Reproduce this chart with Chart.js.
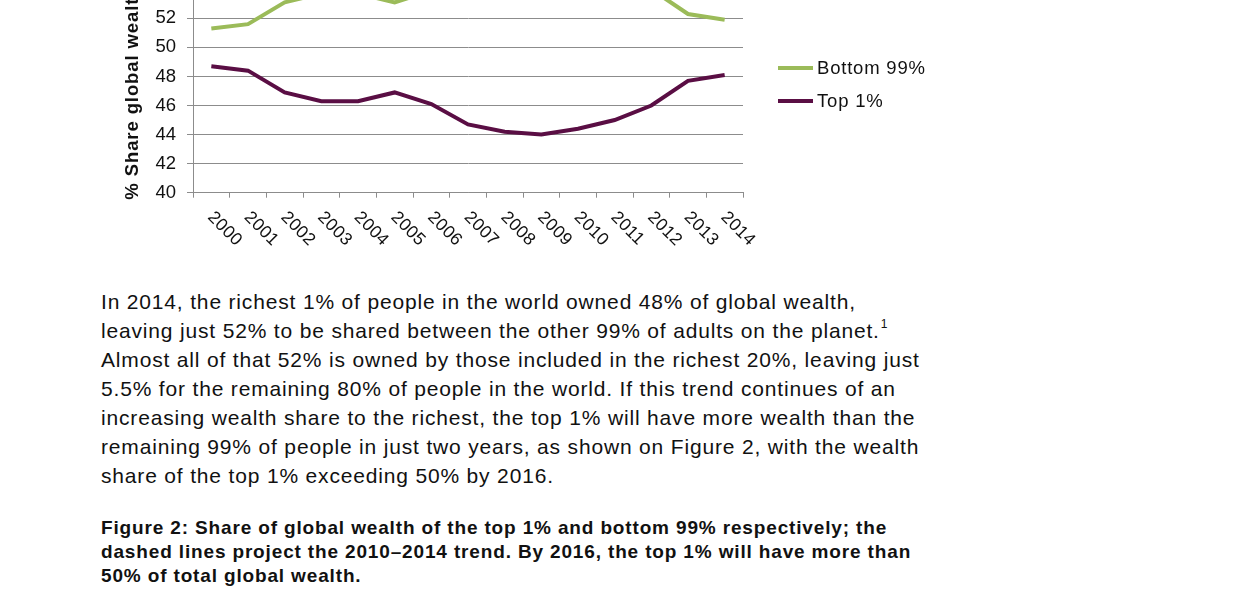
<!DOCTYPE html>
<html lang="en">
<head>
  <meta charset="UTF-8" />
  <title>Share of global wealth</title>
  <style>
    body {
      margin: 0;
      background: #fff;
      width: 1240px;
      height: 600px;
      overflow: hidden;
      position: relative;
      font-family: 'Liberation Sans', Arial, sans-serif;
      color: #111;
    }
    .chart-box {
      position: absolute;
      left: 0;
      top: -120px;
      width: 960px;
      height: 380px;
    }
    .text {
      position: absolute;
      left: 101px;
      top: 287px;
      font-size: 21px;
      letter-spacing: 0.83px;
      line-height: 29px;
      white-space: nowrap;
      margin: 0;
    }
    .text sup {
      font-size: 12px;
      vertical-align: 10px;
      line-height: 0;
      margin-left: 1px;
    }
    .caption {
      position: absolute;
      left: 101px;
      top: 516px;
      font-size: 19px;
      letter-spacing: 0.85px;
      line-height: 24px;
      font-weight: bold;
      white-space: nowrap;
      margin: 0;
    }
  </style>
</head>
<body>
  <div class="chart-box"><canvas id="wealthChart"></canvas></div>

  <p class="text">
    In 2014, the richest 1% of people in the world owned 48% of global wealth,<br>
    leaving just 52% to be shared between the other 99% of adults on the planet.<sup>1</sup><br>
    Almost all of that 52% is owned by those included in the richest 20%, leaving just<br>
    5.5% for the remaining 80% of people in the world. If this trend continues of an<br>
    increasing wealth share to the richest, the top 1% will have more wealth than the<br>
    remaining 99% of people in just two years, as shown on Figure 2, with the wealth<br>
    share of the top 1% exceeding 50% by 2016.
  </p>

  <p class="caption">
    Figure 2: Share of global wealth of the top 1% and bottom 99% respectively; the<br>
    dashed lines project the 2010–2014 trend. By 2016, the top 1% will have more than<br>
    50% of total global wealth.
  </p>

  <script src="https://cdn.jsdelivr.net/npm/chart.js"></script>
  <script>
    const years = ['2000', '2001', '2002', '2003', '2004', '2005', '2006', '2007',
                   '2008', '2009', '2010', '2011', '2012', '2013', '2014'];
    const bottom99 = [51.3, 51.6, 53.1, 53.7, 53.7, 53.1, 53.9, 55.3, 55.8, 56.0, 55.6, 55.0, 54.0, 52.3, 51.9];
    const top1 = [48.7, 48.4, 46.9, 46.3, 46.3, 46.9, 46.1, 44.7, 44.2, 44.0, 44.4, 45.0, 46.0, 47.7, 48.1];
    const yMin = 40, yMax = 60, yStep = 2;
    const yTitle = '% Share global wealth';

    const GREEN = '#9bbb59';
    const PURPLE = '#5a0e44';
    const GRID = '#8c8c8c';

    // rotated year labels, axis title and legend drawn on top of the chart
    const extras = {
      id: 'extras',
      afterDraw(chart) {
        const ctx = chart.ctx;
        const xs = chart.scales.x;
        const area = chart.chartArea;
        ctx.save();
        ctx.fillStyle = '#111';
        ctx.font = '17.5px "Liberation Sans", Arial, sans-serif';
        ctx.letterSpacing = '0.4px';
        ctx.textAlign = 'left';
        ctx.textBaseline = 'middle';
        years.forEach((y, i) => {
          const px = xs.getPixelForTick(i);
          ctx.save();
          ctx.translate(px - 1, area.bottom + 22);
          ctx.rotate(Math.PI / 4);
          ctx.fillText(y, 0, 0);
          ctx.restore();
        });

        ctx.save();
        ctx.font = 'bold 18.5px "Liberation Sans", Arial, sans-serif';
        ctx.letterSpacing = '0.9px';
        ctx.translate(133, area.bottom + 7);
        ctx.rotate(-Math.PI / 2);
        ctx.fillText(yTitle, 0, 0);
        ctx.restore();

        // legend
        ctx.font = '18.5px "Liberation Sans", Arial, sans-serif';
        ctx.letterSpacing = '0.8px';
        const lx = 778, ly = 120 + 68;
        chart.data.datasets.forEach((ds, i) => {
          const y = ly + i * 33;
          ctx.strokeStyle = ds.borderColor;
          ctx.lineWidth = 4;
          ctx.beginPath();
          ctx.moveTo(lx, y);
          ctx.lineTo(lx + 35, y);
          ctx.stroke();
          ctx.fillStyle = '#111';
          ctx.fillText(ds.label, lx + 39, y + 1);
        });
        ctx.restore();
      }
    };

    new Chart(document.getElementById('wealthChart'), {
      type: 'line',
      data: {
        labels: years,
        datasets: [
          { label: 'Bottom 99%', data: bottom99, borderColor: GREEN, backgroundColor: GREEN,
            borderWidth: 4, pointRadius: 0, tension: 0 },
          { label: 'Top 1%', data: top1, borderColor: PURPLE, backgroundColor: PURPLE,
            borderWidth: 4, pointRadius: 0, tension: 0 }
        ]
      },
      options: {
        responsive: true,
        maintainAspectRatio: false,
        animation: false,
        layout: { padding: { top: 16.5, left: 0, right: 217, bottom: 0 } },
        plugins: {
          legend: { display: false },
          tooltip: { enabled: false }
        },
        scales: {
          x: {
            offset: true,
            grid: { offset: true, drawOnChartArea: false, tickLength: 5, color: GRID },
            border: { color: GRID, width: 1 },
            ticks: { display: false },
            afterFit: s => { s.height = 67.3; }
          },
          y: {
            min: yMin,
            max: yMax,
            grid: { color: GRID, tickLength: 6 },
            border: { color: GRID, width: 1 },
            ticks: {
              stepSize: yStep,
              padding: 11,
              color: '#111',
              font: { family: '"Liberation Sans", Arial, sans-serif', size: 18.5 }
            },
            afterFit: s => { s.width = 193; }
          }
        }
      },
      plugins: [extras]
    });
  </script>
</body>
</html>
